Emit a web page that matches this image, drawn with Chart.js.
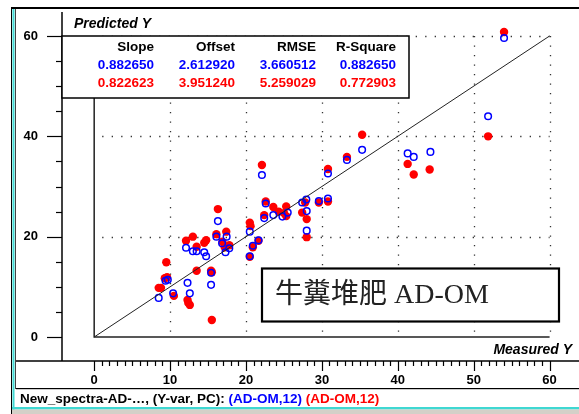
<!DOCTYPE html>
<html>
<head>
<meta charset="utf-8">
<script src="https://cdn.jsdelivr.net/npm/chart.js@4"></script>
<style>
html,body{margin:0;padding:0;background:#fff;}
canvas{display:block;}
</style>
</head>
<body>
<canvas id="c" width="579" height="414"></canvas>
<script>
// ---- data ----
const bluePoints = [
  [8.5,7.8],[9.4,11.2],[9.7,11.4],[10.4,8.7],[12.3,10.8],[12.6,8.7],[12.1,17.8],[13.0,17.1],[13.5,17.1],
  [14.5,16.9],[14.75,16.1],[15.4,12.8],[15.4,10.4],[16.1,20.0],[16.3,23.1],[16.85,18.7],[17.45,20.0],
  [17.3,16.9],[17.8,17.7],[20.5,21.0],[20.9,18.2],[20.5,16.1],[21.65,19.3],[22.1,32.3],[22.4,23.7],
  [22.6,26.6],[23.6,24.3],[24.8,24.0],[25.5,24.8],[27.4,26.8],[27.95,27.4],[28.0,25.1],[28.0,21.2],
  [29.6,27.1],[30.8,27.6],[30.8,32.6],[33.3,35.3],[35.3,37.3],[41.3,36.6],[42.1,35.9],[44.3,36.9],
  [51.9,44.0],[54.0,59.6]
];
const redPoints = [
  [8.5,9.8],[8.8,9.8],[9.3,11.7],[9.6,11.9],[9.5,14.9],[10.5,8.2],[12.3,7.4],[12.4,6.8],[12.6,6.4],
  [12.1,19.2],[13.0,20.0],[13.5,18.0],[13.5,13.2],[14.5,18.8],[14.75,19.3],[15.4,13.2],[15.5,12.9],
  [15.5,3.4],[16.1,20.5],[16.3,25.5],[16.9,19.0],[17.4,21.0],[17.8,18.3],[17.2,17.9],[20.5,22.8],
  [20.6,22.1],[20.9,17.9],[20.5,16.0],[21.65,19.2],[22.1,34.3],[22.4,24.3],[22.6,27.0],[23.6,25.9],
  [24.3,25.0],[25.0,24.7],[25.3,26.0],[25.3,24.1],[27.4,24.8],[27.8,26.8],[28.0,23.5],[28.0,19.9],
  [29.6,26.8],[30.8,27.0],[30.8,33.5],[33.3,35.9],[35.3,40.3],[41.3,34.5],[42.1,32.4],[44.2,33.4],
  [51.9,40.0],[54.0,60.8]
];
const targetLine = [[0,0],[60,60]];
const xTickLabels = ['0','10','20','30','40','50','60'];
const yTickLabels = ['0','20','40','60'];
const statHeaders = ['Slope','Offset','RMSE','R-Square'];
const statsBlue = ['0.882650','2.612920','3.660512','0.882650'];
const statsRed = ['0.822623','3.951240','5.259029','0.772903'];
const statusPrefix = 'New_spectra-AD-…, (Y-var, PC): ';
const statusBlue = '(AD-OM,12)';
const statusRed = '(AD-OM,12)';
const boxLabel = '牛糞堆肥 AD-OM';
const axisTitleY = 'Predicted Y';
const axisTitleX = 'Measured Y';

const SANS = '"Liberation Sans", Arial, sans-serif';
const CYAN = '#3fd8d2';

const toXY = a => a.map(p => ({x:p[0], y:p[1]}));

const deco = {
  id:'deco',
  beforeDraw(chart){
    const c = chart.ctx, W = chart.width, H = chart.height;
    c.save();
    c.fillStyle = '#fff'; c.fillRect(0,0,W,H);
    c.fillStyle = '#000'; c.fillRect(11,7,W-11,2);
    c.fillRect(11,7,1,H);
    c.fillStyle = CYAN; c.fillRect(12.5,9,2,H);
    c.fillStyle = '#444'; c.fillRect(15,9,1,380);
    c.restore();
  },
  beforeDatasetsDraw(chart){
    const c = chart.ctx, xs = chart.scales.x, ys = chart.scales.y;
    const ca = chart.chartArea;
    c.save();
    // dotted grid
    c.strokeStyle = '#333'; c.lineWidth = 1.3; c.setLineDash([1.3,8.2]);
    for (let v=10; v<=60; v+=10){
      const px = Math.round(xs.getPixelForValue(v))+0.5;
      c.beginPath(); c.moveTo(px, ys.getPixelForValue(60)); c.lineTo(px, ys.getPixelForValue(0)-3); c.stroke();
    }
    for (let v=20; v<=60; v+=20){
      const py = Math.round(ys.getPixelForValue(v))+0.5;
      c.beginPath(); c.moveTo(xs.getPixelForValue(0)+8, py); c.lineTo(xs.getPixelForValue(60), py); c.stroke();
    }
    c.setLineDash([]);
    // inner axes at 0
    c.strokeStyle = '#222'; c.lineWidth = 1.5;
    const x0 = xs.getPixelForValue(0), y0 = ys.getPixelForValue(0);
    c.beginPath(); c.moveTo(x0, 98); c.lineTo(x0, y0); c.lineTo(xs.getPixelForValue(60), y0); c.stroke();
    // outer axes
    c.strokeStyle = '#000'; c.lineWidth = 1.5;
    c.beginPath(); c.moveTo(ca.left, ca.top); c.lineTo(ca.left, ca.bottom); c.stroke();
    c.beginPath(); c.moveTo(16, ca.bottom); c.lineTo(chart.width, ca.bottom); c.stroke();
    // y ticks
    c.lineWidth = 1.2;
    for (let v=0; v<=60; v+=5){
      const py = Math.round(ys.getPixelForValue(v))+0.5;
      const len = v%20===0 ? 15 : 6;
      c.beginPath(); c.moveTo(ca.left-len, py); c.lineTo(ca.left, py); c.stroke();
    }
    // x ticks
    for (let v=0; v<=60; v+=1){
      const px = Math.round(xs.getPixelForValue(v))+0.5;
      const len = v%10===0 ? 10 : 5;
      c.beginPath(); c.moveTo(px, ca.bottom); c.lineTo(px, ca.bottom+len); c.stroke();
    }
    // axis titles
    c.fillStyle = '#000';
    c.font = 'italic bold 14px ' + SANS;
    c.textBaseline = 'middle';
    c.textAlign = 'left'; c.fillText(axisTitleY, 74, 24);
    c.textAlign = 'right'; c.fillText(axisTitleX, 572, 350);
    c.restore();
  },
  afterDatasetsDraw(chart){
    const c = chart.ctx, ca = chart.chartArea, ys = chart.scales.y;
    c.save();
    const boxTop = Math.round(ys.getPixelForValue(60));
    // stats box
    c.fillStyle = '#fff'; c.fillRect(ca.left, boxTop, 409-ca.left, 62);
    c.strokeStyle = '#000'; c.lineWidth = 1.5;
    c.strokeRect(ca.left, boxTop, 409-ca.left, 62);
    const cols = [154, 235, 316, 396];
    c.font = 'bold 13.5px ' + SANS; c.textAlign = 'right'; c.textBaseline = 'middle';
    statHeaders.forEach((t,i)=>{ c.fillStyle='#000'; c.fillText(t, cols[i], boxTop+11.5); });
    statsBlue.forEach((t,i)=>{ c.fillStyle='#0000ff'; c.fillText(t, cols[i], boxTop+29.5); });
    statsRed.forEach((t,i)=>{ c.fillStyle='#ff0000'; c.fillText(t, cols[i], boxTop+47.5); });
    // label box
    c.fillStyle = '#fff'; c.fillRect(262, 268.5, 297, 53);
    c.lineWidth = 2.2; c.strokeStyle = '#000'; c.strokeRect(262, 268.5, 297, 53);
    c.fillStyle = '#222'; c.textAlign = 'left';
    c.font = '28px "Liberation Serif", "Noto Sans CJK TC", serif';
    c.fillText(boxLabel, 275, 296);
    // status bar
    c.fillStyle = '#000'; c.fillRect(16, 388, chart.width-16, 1.2);
    c.font = 'bold 13.5px ' + SANS; c.textBaseline = 'middle';
    let x = 20;
    c.fillStyle = '#000'; c.fillText(statusPrefix, x, 399); x += c.measureText(statusPrefix).width;
    c.fillStyle = '#0000ff'; c.fillText(statusBlue + ' ', x, 399); x += c.measureText(statusBlue + ' ').width;
    c.fillStyle = '#ff0000'; c.fillText(statusRed, x, 399);
    c.fillStyle = CYAN; c.fillRect(12, 407, chart.width-12, 2.5);
    c.fillStyle = '#d4d0c8'; c.fillRect(12, 409.5, chart.width-12, 5);
    c.restore();
  }
};

new Chart(document.getElementById('c'), {
  type: 'scatter',
  data: {
    datasets: [
      { label:'line', data: toXY(targetLine), showLine:true, borderColor:'#222', borderWidth:1, pointRadius:0, fill:false },
      { label:'cal', data: toXY(bluePoints), pointRadius:3.3, pointBorderColor:'#0000ff', pointBackgroundColor:'rgba(255,255,255,0)', pointBorderWidth:1.5, showLine:false },
      { label:'val', data: toXY(redPoints), pointRadius:4.2, pointBorderColor:'#ff0000', pointBackgroundColor:'#ff0000', pointBorderWidth:0, showLine:false }
    ]
  },
  options: {
    responsive:false, animation:false, devicePixelRatio:1,
    layout:{ padding:{ top:12, right:4, left:0, bottom:0 } },
    plugins:{ legend:{display:false}, tooltip:{enabled:false} },
    scales:{
      x:{ type:'linear', min:-4.24, max:63.15,
        afterFit(s){ s.height = 53; s.paddingLeft = 0; s.paddingRight = 0; },
        grid:{display:false, drawTicks:false}, border:{display:false},
        afterBuildTicks(s){ s.ticks = xTickLabels.map(t=>({value:Number(t)})); },
        ticks:{ padding:12, maxRotation:0, autoSkip:false, color:'#000',
          font:{ family:SANS, size:13, weight:'bold' },
          callback:(v)=> xTickLabels.includes(String(v)) ? String(v) : '' } },
      y:{ type:'linear', min:-4.78, max:64.78,
        afterFit(s){ s.width = 62; s.paddingTop = 0; s.paddingBottom = 0; },
        grid:{display:false, drawTicks:false}, border:{display:false},
        afterBuildTicks(s){ s.ticks = yTickLabels.map(t=>({value:Number(t)})); },
        ticks:{ padding:24, autoSkip:false, color:'#000',
          font:{ family:SANS, size:13, weight:'bold' },
          callback:(v)=> yTickLabels.includes(String(v)) ? String(v) : '' } }
    }
  },
  plugins:[deco]
});
</script>
</body>
</html>
